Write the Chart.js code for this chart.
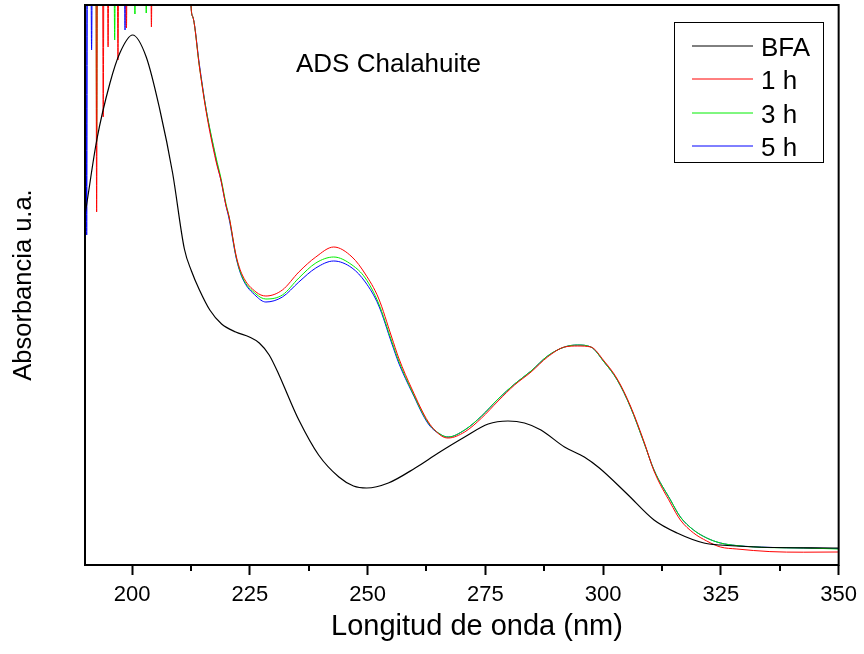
<!DOCTYPE html>
<html>
<head>
<meta charset="utf-8">
<script src="https://cdn.jsdelivr.net/npm/chart.js@4.4.0/dist/chart.umd.min.js"></script>
<style>
  html, body { margin: 0; padding: 0; background: #fff; }
</style>
</head>
<body>
<canvas id="spectra" width="864" height="654"></canvas>
<script>
//---------------------DATA--------------------------------------//
const sampleLabel = 'ADS Chalahuite';
const xTitle = 'Longitud de onda (nm)';
const yTitle = 'Absorbancia u.a.';
const seriesLabels = ['BFA', '1 h', '3 h', '5 h'];
const seriesColors = ['#000000', '#ff0000', '#00ee00', '#0000ff'];
const xTicks = [200, 225, 250, 275, 300, 325, 350];
const xMinorTicks = [212.5, 237.5, 262.5, 287.5, 312.5, 337.5];

// BFA reference spectrum
const bfaNm = [190.0, 190.4, 192.5, 195.3, 197.4, 200.1, 203.0, 205.9, 208.6, 211.1,
  212.6, 214.3, 216.5, 219.0, 222.0, 224.9, 227.0, 229.1, 231.2, 233.3, 235.4,
  239.6, 243.9, 247.0, 249.8, 254.4, 260.1, 265.0, 270.6, 275.6, 279.8, 283.3,
  286.8, 291.8, 296.0, 299.2, 305.1, 310.8, 315.7, 321.4, 324.8, 332.6, 350.0];
const bfaAbs = [1.75, 1.81, 2.125, 2.41, 2.56, 2.65, 2.54, 2.275, 1.96, 1.58,
  1.47, 1.375, 1.275, 1.205, 1.165, 1.14, 1.11, 1.05, 0.95, 0.835, 0.725,
  0.55, 0.44, 0.395, 0.385, 0.41, 0.485, 0.56, 0.64, 0.705, 0.72, 0.71,
  0.675, 0.59, 0.54, 0.485, 0.355, 0.225, 0.16, 0.11, 0.1, 0.09, 0.085];

// wavelengths shared by the adsorbed samples after the saturated zone
const mainNm = [212.5, 212.9, 214.3, 215.7, 217.8, 218.9, 219.9, 220.6, 222.1, 223.4,
  226.3, 228.4, 231.9, 235.4, 239.0, 242.8, 246.7, 249.5, 252.3, 255.1, 256.6,
  259.4, 262.9, 265.7, 267.1, 270.6, 274.2, 277.7, 281.2, 284.7, 288.2, 291.8,
  294.6, 297.4, 300.2, 303.0, 305.8, 308.7, 310.8, 314.3, 316.4, 319.2, 322.0,
  324.9, 328.4, 335.4, 342.5, 350.0];

// saturated zone (values above the frame), with the noise spikes
const h1NoiseNm = [190.0, 192.3, 192.47, 192.65, 193.7, 193.87, 194.05, 194.7, 194.9, 195.1,
  196.8, 197.0, 197.2, 198.6, 198.8, 199.0, 203.9, 204.1, 204.3, 212.3];
const h1NoiseAbs = [3.2, 3.2, 1.765, 3.2, 3.2, 2.24, 3.2, 3.2, 2.59, 3.2,
  3.2, 2.525, 3.2, 3.2, 2.685, 3.2, 3.2, 2.69, 3.2, 3.2];
const h3NoiseNm = [190.0, 190.2, 192.3, 192.47, 192.65, 196.1, 196.3, 196.5, 200.4, 200.6,
  200.8, 202.8, 203.0, 203.2, 212.3];
const h3NoiseAbs = [1.71, 3.2, 3.2, 2.115, 3.2, 3.2, 2.625, 3.2, 3.2, 2.755,
  3.2, 3.2, 2.76, 3.2, 3.2];
const h5NoiseNm = [190.0, 190.2, 190.36, 190.55, 191.2, 191.4, 191.6, 198.3, 198.5, 198.7, 212.3];
const h5NoiseAbs = [3.2, 3.2, 1.65, 3.2, 3.2, 2.575, 3.2, 3.2, 2.675, 3.2, 3.2];

const h1Abs = [2.8, 2.74, 2.49, 2.27, 2.02, 1.92, 1.8, 1.74, 1.545, 1.45,
  1.365, 1.345, 1.375, 1.465, 1.54, 1.59, 1.54, 1.455, 1.335, 1.14, 1.035,
  0.88, 0.715, 0.645, 0.635, 0.665, 0.735, 0.82, 0.9, 0.965, 1.04, 1.09,
  1.095, 1.09, 1.02, 0.93, 0.795, 0.615, 0.47, 0.31, 0.225, 0.16, 0.12,
  0.09, 0.08, 0.067, 0.064, 0.065];
const h3Abs = [2.8, 2.74, 2.49, 2.28, 2.04, 1.93, 1.81, 1.74, 1.54, 1.44,
  1.355, 1.33, 1.35, 1.435, 1.51, 1.54, 1.5, 1.435, 1.31, 1.12, 1.02,
  0.87, 0.71, 0.65, 0.64, 0.675, 0.745, 0.83, 0.905, 0.97, 1.045, 1.09,
  1.1, 1.09, 1.015, 0.925, 0.79, 0.61, 0.475, 0.325, 0.24, 0.175, 0.135,
  0.11, 0.097, 0.087, 0.085, 0.08];
const h5Abs = [2.8, 2.74, 2.5, 2.28, 2.03, 1.92, 1.8, 1.73, 1.535, 1.435,
  1.345, 1.315, 1.34, 1.415, 1.485, 1.52, 1.485, 1.415, 1.3, 1.11, 1.01,
  0.865, 0.705, 0.65, 0.64, 0.675, 0.745, 0.83, 0.905, 0.97, 1.045, 1.09,
  1.1, 1.09, 1.015, 0.925, 0.79, 0.61, 0.475, 0.325, 0.24, 0.175, 0.135,
  0.11, 0.097, 0.088, 0.085, 0.082];

//---------------------HELPERS--------------------------------------//
const fontFamily = '"Liberation Sans", Arial, sans-serif';

function toPoints(nm, abs) {
  return nm.map((x, i) => ({ x: x, y: abs[i] }));
}

function sampleSeries(noiseNm, noiseAbs, abs) {
  return toPoints(noiseNm, noiseAbs).concat(toPoints(mainNm, abs));
}

function makeDataset(i, points, width) {
  return {
    label: seriesLabels[i],
    data: points,
    borderColor: seriesColors[i],
    borderWidth: width,
    pointRadius: 0,
    cubicInterpolationMode: 'monotone',
    fill: false
  };
}

//---------------------PLUGINS--------------------------------------//
const framePlugin = {
  id: 'frame',
  afterDatasetsDraw(chart) {
    const { ctx, chartArea: a } = chart;
    const xScale = chart.scales.x;
    ctx.save();
    ctx.strokeStyle = '#000';
    ctx.lineWidth = 2;
    ctx.strokeRect(a.left, a.top, a.right - a.left, a.bottom - a.top);
    xMinorTicks.forEach(v => {
      const px = Math.round(xScale.getPixelForValue(v));
      ctx.beginPath();
      ctx.moveTo(px, a.bottom);
      ctx.lineTo(px, a.bottom + 6);
      ctx.stroke();
    });
    ctx.fillStyle = '#000';
    ctx.textBaseline = 'alphabetic';
    ctx.font = '26px ' + fontFamily;
    ctx.fillText(sampleLabel, 296, 72);
    // x axis title, a bit right of the plot centre like the original
    ctx.font = '29px ' + fontFamily;
    ctx.textAlign = 'center';
    ctx.fillText(xTitle, 477, 635);
    ctx.restore();
  }
};

const boxLegendPlugin = {
  id: 'boxLegend',
  afterDraw(chart) {
    const ctx = chart.ctx;
    ctx.save();
    ctx.fillStyle = '#fff';
    ctx.fillRect(674, 22, 149, 140);
    ctx.strokeStyle = '#000';
    ctx.lineWidth = 1;
    ctx.strokeRect(674.5, 22.5, 149, 140);
    ctx.font = '26px ' + fontFamily;
    ctx.fillStyle = '#000';
    ctx.textBaseline = 'alphabetic';
    chart.data.datasets.forEach((ds, i) => {
      const y = 46 + i * 33.4;
      ctx.strokeStyle = ds.borderColor;
      ctx.lineWidth = 1;
      ctx.beginPath();
      ctx.moveTo(692, Math.round(y));
      ctx.lineTo(753, Math.round(y));
      ctx.stroke();
      ctx.fillText(ds.label, 761, y + 10);
    });
    ctx.restore();
  }
};

//---------------------CHART--------------------------------------//
const spectraChart = new Chart(document.getElementById('spectra'), {
  type: 'line',
  data: {
    datasets: [
      makeDataset(0, toPoints(bfaNm, bfaAbs), 1.2),
      makeDataset(1, sampleSeries(h1NoiseNm, h1NoiseAbs, h1Abs), 1),
      makeDataset(2, sampleSeries(h3NoiseNm, h3NoiseAbs, h3Abs), 1),
      makeDataset(3, sampleSeries(h5NoiseNm, h5NoiseAbs, h5Abs), 1)
    ]
  },
  options: {
    responsive: false,
    animation: false,
    devicePixelRatio: 1,
    layout: { padding: { top: 5, right: 22, left: 0, bottom: 0 } },
    plugins: { legend: { display: false }, tooltip: { enabled: false } },
    scales: {
      x: {
        type: 'linear',
        min: 190,
        max: 350,
        afterFit: scale => { scale.height = 89; },
        afterBuildTicks: scale => { scale.ticks = xTicks.map(v => ({ value: v })); },
        border: { display: false },
        grid: { drawOnChartArea: false, drawTicks: true, tickLength: 10, tickWidth: 2, tickColor: '#000' },
        ticks: { color: '#000', padding: 7, maxRotation: 0, autoSkip: false, font: { family: fontFamily, size: 22 } },
        title: { display: false }
      },
      y: {
        min: 0,
        max: 2.8,
        afterFit: scale => { scale.width = 85; },
        border: { display: false },
        grid: { display: false },
        ticks: { display: false },
        title: { display: true, text: yTitle, color: '#000',
          padding: { top: 9, bottom: 0 }, font: { family: fontFamily, size: 25.5 } }
      }
    }
  },
  plugins: [framePlugin, boxLegendPlugin]
});
</script>
</body>
</html>
